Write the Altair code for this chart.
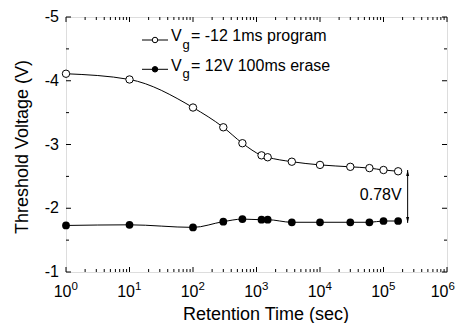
import altair as alt
import pandas as pd

# ---- data ----
t = [1, 10, 100, 300, 600, 1200, 1500, 3600, 10000, 30000, 60000, 100000, 170000]
prog_v = [-4.11, -4.02, -3.58, -3.27, -3.02, -2.83, -2.80, -2.73, -2.68, -2.65, -2.63, -2.60, -2.58]
erase_v = [-1.73, -1.74, -1.70, -1.79, -1.83, -1.82, -1.82, -1.78, -1.78, -1.78, -1.78, -1.80, -1.80]

x_major = [1, 10, 100, 1000, 10000, 100000, 1000000]
x_exp = ["0", "1", "2", "3", "4", "5", "6"]
x_minor = [m * 10 ** k for k in range(6) for m in range(2, 10)]
y_major = [-5, -4, -3, -2, -1]
y_labels = ["-5", "-4", "-3", "-2", "-1"]
y_minor = [-4.5, -3.5, -2.5, -1.5]

x_title = "Retention Time (sec)"
y_title = "Threshold Voltage (V)"

gap_t = [240000]
gap_top = [-2.60]
gap_bot = [-1.77]
gap_label = ["0.78V"]
gap_label_v = [-2.21]

legend_rest = ["= -12 1ms program", "= 12V 100ms erase"]
legend_fill = ["white", "black"]

# ---- layout ----
W, H = 381, 255
FONT = "Liberation Sans"
xs = alt.Scale(type="log", domain=[1, 1e6], nice=False)
ys = alt.Scale(domain=[-5, -1], reverse=True, nice=False, zero=False)


def X(f):
    return alt.X(f, scale=xs, axis=None)


def Y(f):
    return alt.Y(f, scale=ys, axis=None)


prog_df = pd.DataFrame({"t": t, "v": prog_v})
erase_df = pd.DataFrame({"t": t, "v": erase_v})

line_prog = alt.Chart(prog_df).mark_line(color="black", strokeWidth=1, interpolate="monotone").encode(
    x=X("t:Q"), y=Y("v:Q"))
line_erase = alt.Chart(erase_df).mark_line(color="black", strokeWidth=1, interpolate="monotone").encode(
    x=X("t:Q"), y=Y("v:Q"))
pts_prog = alt.Chart(prog_df).mark_point(shape="circle", filled=True, fill="white", stroke="black",
                                         strokeWidth=1, size=55, opacity=1).encode(
    x=X("t:Q"), y=Y("v:Q"))
pts_erase = alt.Chart(erase_df).mark_point(shape="circle", filled=True, color="black",
                                           size=60, opacity=1).encode(
    x=X("t:Q"), y=Y("v:Q"))


# ---- inward ticks on all four sides ----
def xticks(vals, ln):
    d = pd.DataFrame({"t": vals})
    bot = alt.Chart(d).mark_rule(color="black", strokeWidth=1).encode(
        x=X("t:Q"), y=alt.value(H), y2=alt.value(H - ln))
    top = alt.Chart(d).mark_rule(color="black", strokeWidth=1).encode(
        x=X("t:Q"), y=alt.value(0), y2=alt.value(ln))
    return [bot, top]


def yticks(vals, ln):
    d = pd.DataFrame({"v": vals})
    lef = alt.Chart(d).mark_rule(color="black", strokeWidth=1).encode(
        y=Y("v:Q"), x=alt.value(0), x2=alt.value(ln))
    rig = alt.Chart(d).mark_rule(color="black", strokeWidth=1).encode(
        y=Y("v:Q"), x=alt.value(W), x2=alt.value(W - ln))
    return [lef, rig]


tick_layers = xticks(x_major, 5) + xticks(x_minor, 3) + yticks(y_major, 5) + yticks(y_minor, 3)


# ---- tick labels (10^n); the last one nudged left to stay inside the page ----
def xlabels(vals, exps, shift):
    d = pd.DataFrame({"t": vals, "e": exps, "base": ["10"] * len(vals)})
    b = alt.Chart(d).mark_text(align="right", baseline="alphabetic", dx=5.5 - shift,
                               font=FONT, fontSize=16, color="black").encode(
        x=X("t:Q"), y=alt.value(H + 24.7), text="base:N")
    e = alt.Chart(d).mark_text(align="left", baseline="alphabetic", dx=5.5 - shift,
                               font=FONT, fontSize=11.5, color="black").encode(
        x=X("t:Q"), y=alt.value(H + 18), text="e:N")
    return [b, e]


xl_layers = xlabels(x_major[:-1], x_exp[:-1], 0) + xlabels(x_major[-1:], x_exp[-1:], 4)

yl_df = pd.DataFrame({"v": y_major, "lab": y_labels})
yl = alt.Chart(yl_df).mark_text(align="right", baseline="middle", font=FONT, fontSize=16,
                                color="black").encode(
    x=alt.value(-7), y=Y("v:Q"), text="lab:N")

# ---- axis titles ----
one = pd.DataFrame({"a": [0]})
xt = alt.Chart(one).mark_text(text=x_title, align="center", baseline="alphabetic",
                              font=FONT, fontSize=18, color="black").encode(
    x=alt.value(200), y=alt.value(H + 48))
yt = alt.Chart(one).mark_text(text=y_title, align="center", baseline="middle", angle=270,
                              font=FONT, fontSize=18, color="black").encode(
    x=alt.value(-43), y=alt.value(130))

# ---- 0.78V annotation ----
gap_df = pd.DataFrame({"t": gap_t, "top": gap_top, "bot": gap_bot,
                       "lab": gap_label, "lv": gap_label_v})
gap_rule = alt.Chart(gap_df).mark_rule(color="black", strokeWidth=1).encode(
    x=X("t:Q"), y=Y("top:Q"), y2="bot:Q")
head_up = alt.Chart(gap_df).mark_point(shape="M0,0L0.5,2L-0.5,2Z", filled=True, color="black",
                                       size=36, opacity=1).encode(
    x=X("t:Q"), y=Y("top:Q"))
head_dn = alt.Chart(gap_df).mark_point(shape="M0,0L0.5,-2L-0.5,-2Z", filled=True, color="black",
                                       size=36, opacity=1).encode(
    x=X("t:Q"), y=Y("bot:Q"))
gap_text = alt.Chart(gap_df).mark_text(align="right", baseline="middle", dx=-6,
                                       font=FONT, fontSize=16, color="black").encode(
    x=X("t:Q"), y=Y("lv:Q"), text="lab:N")

# ---- legend ----
legend_layers = []
row_y = [23, 52.3]
for i in range(2):
    ry = row_y[i]
    legend_layers.append(alt.Chart(one).mark_rule(color="black", strokeWidth=1).encode(
        x=alt.value(76), x2=alt.value(102), y=alt.value(ry)))
    legend_layers.append(alt.Chart(one).mark_point(shape="circle", filled=True, fill=legend_fill[i],
                                                   stroke="black", strokeWidth=1, size=30,
                                                   opacity=1).encode(
        x=alt.value(89), y=alt.value(ry)))
    legend_layers.append(alt.Chart(one).mark_text(text="V", align="left", baseline="alphabetic",
                                                  font=FONT, fontSize=16, color="black").encode(
        x=alt.value(105), y=alt.value(ry + 1.3)))
    legend_layers.append(alt.Chart(one).mark_text(text="g", align="left", baseline="alphabetic",
                                                  font=FONT, fontSize=13, color="black").encode(
        x=alt.value(116.5), y=alt.value(ry + 8.5)))
    legend_layers.append(alt.Chart(one).mark_text(text=legend_rest[i], align="left",
                                                  baseline="alphabetic", font=FONT, fontSize=16,
                                                  color="black").encode(
        x=alt.value(125), y=alt.value(ry + 1.3)))

chart = alt.layer(
    line_prog, line_erase, *tick_layers, pts_prog, pts_erase,
    *xl_layers, yl, xt, yt, gap_rule, head_up, head_dn, gap_text, *legend_layers
).properties(
    width=W, height=H,
    autosize=alt.AutoSizeParams(type="none"),
    padding={"left": 58, "top": 9, "right": 8, "bottom": 51},
).configure_view(stroke="black", strokeWidth=1).configure(font=FONT, background="white")

chart.save("out.html", embed_options={"renderer": "svg", "actions": False})
